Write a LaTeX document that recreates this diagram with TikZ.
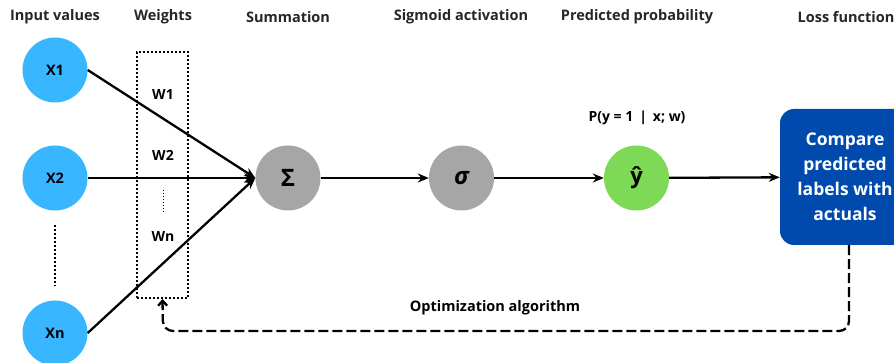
\documentclass[tikz,border=0pt]{standalone}
\usepackage{fontspec}
\setmainfont{Open Sans}
\usetikzlibrary{arrows.meta}
\definecolor{inblue}{HTML}{38B6FF}
\definecolor{sgray}{HTML}{A6A6A6}
\definecolor{ygreen}{HTML}{7ED957}
\definecolor{boxblue}{HTML}{004AAD}
\tikzset{
  hdr/.style={font=\fontsize{14.5}{16}\selectfont\bfseries, text=black!85},
  incirc/.style={circle, fill=inblue, minimum size=65pt, inner sep=0pt, font=\fontsize{14.5}{16}\selectfont\bfseries},
  gcirc/.style={circle, fill=sgray, minimum size=65pt, inner sep=0pt, font=\fontsize{24}{26}\selectfont\bfseries},
  ycirc/.style={circle, fill=ygreen, minimum size=65pt, inner sep=0pt, font=\fontsize{22}{24}\selectfont\bfseries},
  wlab/.style={font=\fontsize{14}{16}\selectfont\bfseries},
  conn/.style={line width=2.3pt, -{Stealth[length=11pt,width=9pt]}},
}
\begin{document}
\begin{tikzpicture}[x=1pt,y=-1pt]
\clip (0,0) rectangle (894,363);
% headers
\node[hdr] (h1) at (55,17) {Input values};
\node[hdr] (h2) at (163,17) {Weights};
\node[hdr] (h3) at (288,17) {Summation};
\node[hdr] (h4) at (461,17) {Sigmoid activation};
\node[hdr] (h5) at (637,17) {Predicted probability};
\node[hdr] (h6) at (846,17) {Loss function};
% weights box
\node[draw, dotted, line width=2pt, minimum width=51pt, minimum height=246pt, inner sep=0pt] (wbox) at (162.5,175) {};
\node[wlab] (w1) at (163,95) {W1};
\node[wlab] (w2) at (163,155) {W2};
\node[wlab] (wn) at (163,237) {Wn};
\coordinate (wd1) at (163,190);
\coordinate (wd2) at (163,212);
\draw[dotted, line width=1pt] (wd1) -- (wd2);
% inputs
\node[incirc] (x1) at (55,70) {X1};
\node[incirc] (x2) at (55,178) {X2};
\node[incirc] (xn) at (55,333) {Xn};
\coordinate (xd1) at (55,225);
\coordinate (xd2) at (55,286);
\draw[dotted, line width=2pt] (xd1) -- (xd2);
% processing
\node[gcirc] (sum) at (288,178) {Σ};
\node[gcirc] (sig) at (461.5,178) {\itshape σ};
\node[ycirc] (yh) at (636.5,178) {ŷ};
\node[font=\fontsize{14}{16}\selectfont\bfseries] (prob) at (637,118) {P(y = 1 \,|\, x; w)};
\node[rectangle, rounded corners=14pt, fill=boxblue, minimum width=130pt, minimum height=136pt, text=white, align=center, font=\fontsize{17.5}{25}\selectfont\bfseries] (loss) at (845,177) {Compare\\predicted\\labels with\\actuals};
% connectors
\draw[conn] (x1.east) -- (sum.west);
\draw[conn] (x2.east) -- (sum.west);
\draw[conn] (xn.east) -- (sum.west);
\draw[conn] (sum) -- (sig);
\draw[conn] (sig) -- (yh);
\draw[conn] (yh) -- (loss);
% feedback
\coordinate (c1) at (849,331);
\coordinate (c2) at (163,331);
\draw[dashed, dash pattern=on 10pt off 4pt, line width=2.3pt, rounded corners=10pt, -{Straight Barb[length=5pt,width=9pt]}] (loss.south -| c1) -- (c1) -- (c2) -- (wbox.south);
\node[font=\fontsize{14.5}{16}\selectfont\bfseries] (opt) at (495,308) {Optimization algorithm};
\end{tikzpicture}
\end{document}
